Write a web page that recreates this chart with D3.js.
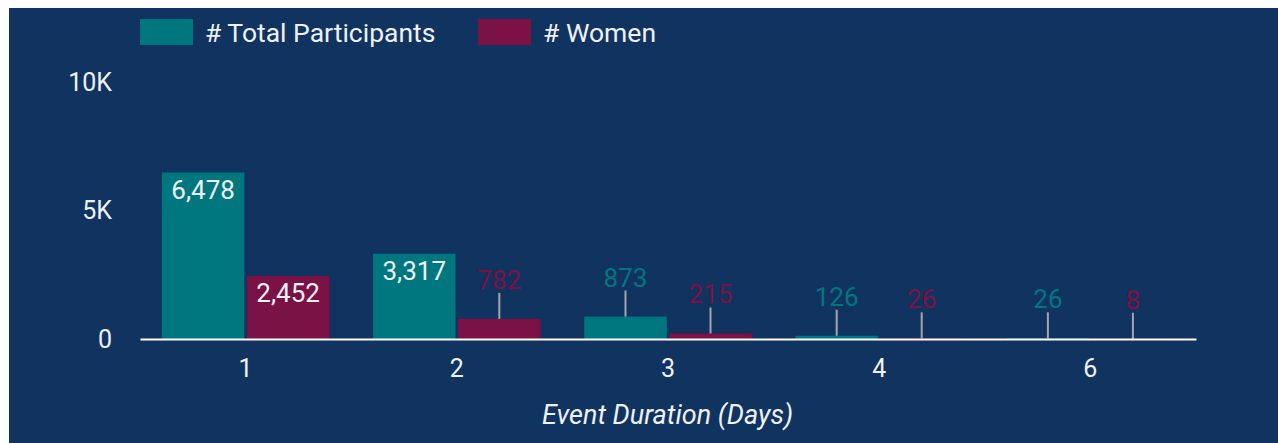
<!DOCTYPE html>
<html>
<head>
<meta charset="utf-8">
<script src="https://cdn.jsdelivr.net/npm/d3@7"></script>
<style>
  body { margin: 0; background: #ffffff; }
  svg { display: block; font-family: Roboto, "Noto Sans", sans-serif; }
</style>
</head>
<body>
<svg id="chart" width="1278" height="443"></svg>
<script>
// Participants by event duration
const durations = ["1", "2", "3", "4", "6"];
const seriesNames = ["# Total Participants", "# Women"];
const totalParticipants = [6478, 3317, 873, 126, 26];
const women = [2452, 782, 215, 26, 8];
const yTickValues = [0, 5000, 10000];
const yTickLabels = ["0", "5K", "10K"];
const axisTitle = "Event Duration (Days)";

const colors = { "# Total Participants": "#00777f", "# Women": "#7b1245" };
const bg = "#11335f";
const textColor = "#eef1f6";

const svg = d3.select("#chart");

// dark panel
svg.append("rect")
  .attr("x", 9).attr("y", 8)
  .attr("width", 1269).attr("height", 435)
  .attr("fill", bg);

const x0 = d3.scaleBand()
  .domain(durations)
  .range([140, 1196])
  .paddingInner(0.207)
  .paddingOuter(0.1035);

const x1 = d3.scaleBand()
  .domain(seriesNames)
  .range([0, x0.bandwidth()])
  .paddingInner(0.03);

const y = d3.scaleLinear().domain([0, 10000]).range([339, 82]);

const rows = durations.map((d, i) => ({
  duration: d,
  values: [
    { key: seriesNames[0], value: totalParticipants[i] },
    { key: seriesNames[1], value: women[i] }
  ]
}));

// bars
const groups = svg.append("g").selectAll("g")
  .data(rows).join("g")
  .attr("transform", d => `translate(${x0(d.duration)},0)`);

groups.selectAll("rect")
  .data(d => d.values).join("rect")
  .attr("x", d => x1(d.key))
  .attr("y", d => y(d.value))
  .attr("width", x1.bandwidth())
  .attr("height", d => y(0) - y(d.value))
  .attr("fill", d => colors[d.key]);

// value labels: inside tall bars, above short bars with a leader line
const insideMin = 40;
groups.each(function (row) {
  const g = d3.select(this);
  row.values.forEach(v => {
    const cx = x1(v.key) + x1.bandwidth() / 2;
    const top = y(v.value);
    const label = d3.format(",")(v.value);
    if (y(0) - top > insideMin) {
      g.append("text")
        .attr("x", cx).attr("y", top + 26)
        .attr("text-anchor", "middle")
        .attr("font-size", 26)
        .attr("fill", textColor)
        .text(label);
    } else {
      g.append("line")
        .attr("x1", cx).attr("x2", cx)
        .attr("y1", top).attr("y2", top - 26)
        .attr("stroke", "#a3a6ab")
        .attr("stroke-width", 2);
      g.append("text")
        .attr("x", cx).attr("y", top - 30)
        .attr("text-anchor", "middle")
        .attr("font-size", 26)
        .attr("fill", colors[v.key])
        .text(label);
    }
  });
});

// x axis
const xAxis = svg.append("g")
  .attr("transform", `translate(0,${y(0)})`)
  .call(d3.axisBottom(x0).tickSize(0).tickSizeOuter(0).tickPadding(20));
xAxis.select(".domain").attr("stroke", "#ffffff").attr("stroke-width", 2);
xAxis.selectAll("text")
  .attr("font-size", 25)
  .attr("font-family", "Roboto, sans-serif")
  .attr("fill", textColor);

// y axis (labels only)
const yAxis = svg.append("g")
  .attr("transform", "translate(140,0)")
  .call(d3.axisLeft(y)
    .tickValues(yTickValues)
    .tickFormat((d, i) => yTickLabels[i])
    .tickSize(0)
    .tickPadding(28));
yAxis.select(".domain").remove();
yAxis.selectAll("text")
  .attr("font-size", 25)
  .attr("font-family", "Roboto, sans-serif")
  .attr("fill", textColor);

// axis title
svg.append("text")
  .attr("x", 667.5).attr("y", 424)
  .attr("text-anchor", "middle")
  .attr("font-size", 27)
  .attr("font-style", "italic")
  .attr("fill", textColor)
  .text(axisTitle);

// legend
const legendX = [140, 478];
const legend = svg.append("g").selectAll("g")
  .data(seriesNames).join("g")
  .attr("transform", (d, i) => `translate(${legendX[i]},19)`);
legend.append("rect")
  .attr("width", 53).attr("height", 26)
  .attr("fill", d => colors[d]);
legend.append("text")
  .attr("x", 65).attr("y", 22.5)
  .attr("font-size", 26.5)
  .attr("fill", textColor)
  .text(d => d);
</script>
</body>
</html>
